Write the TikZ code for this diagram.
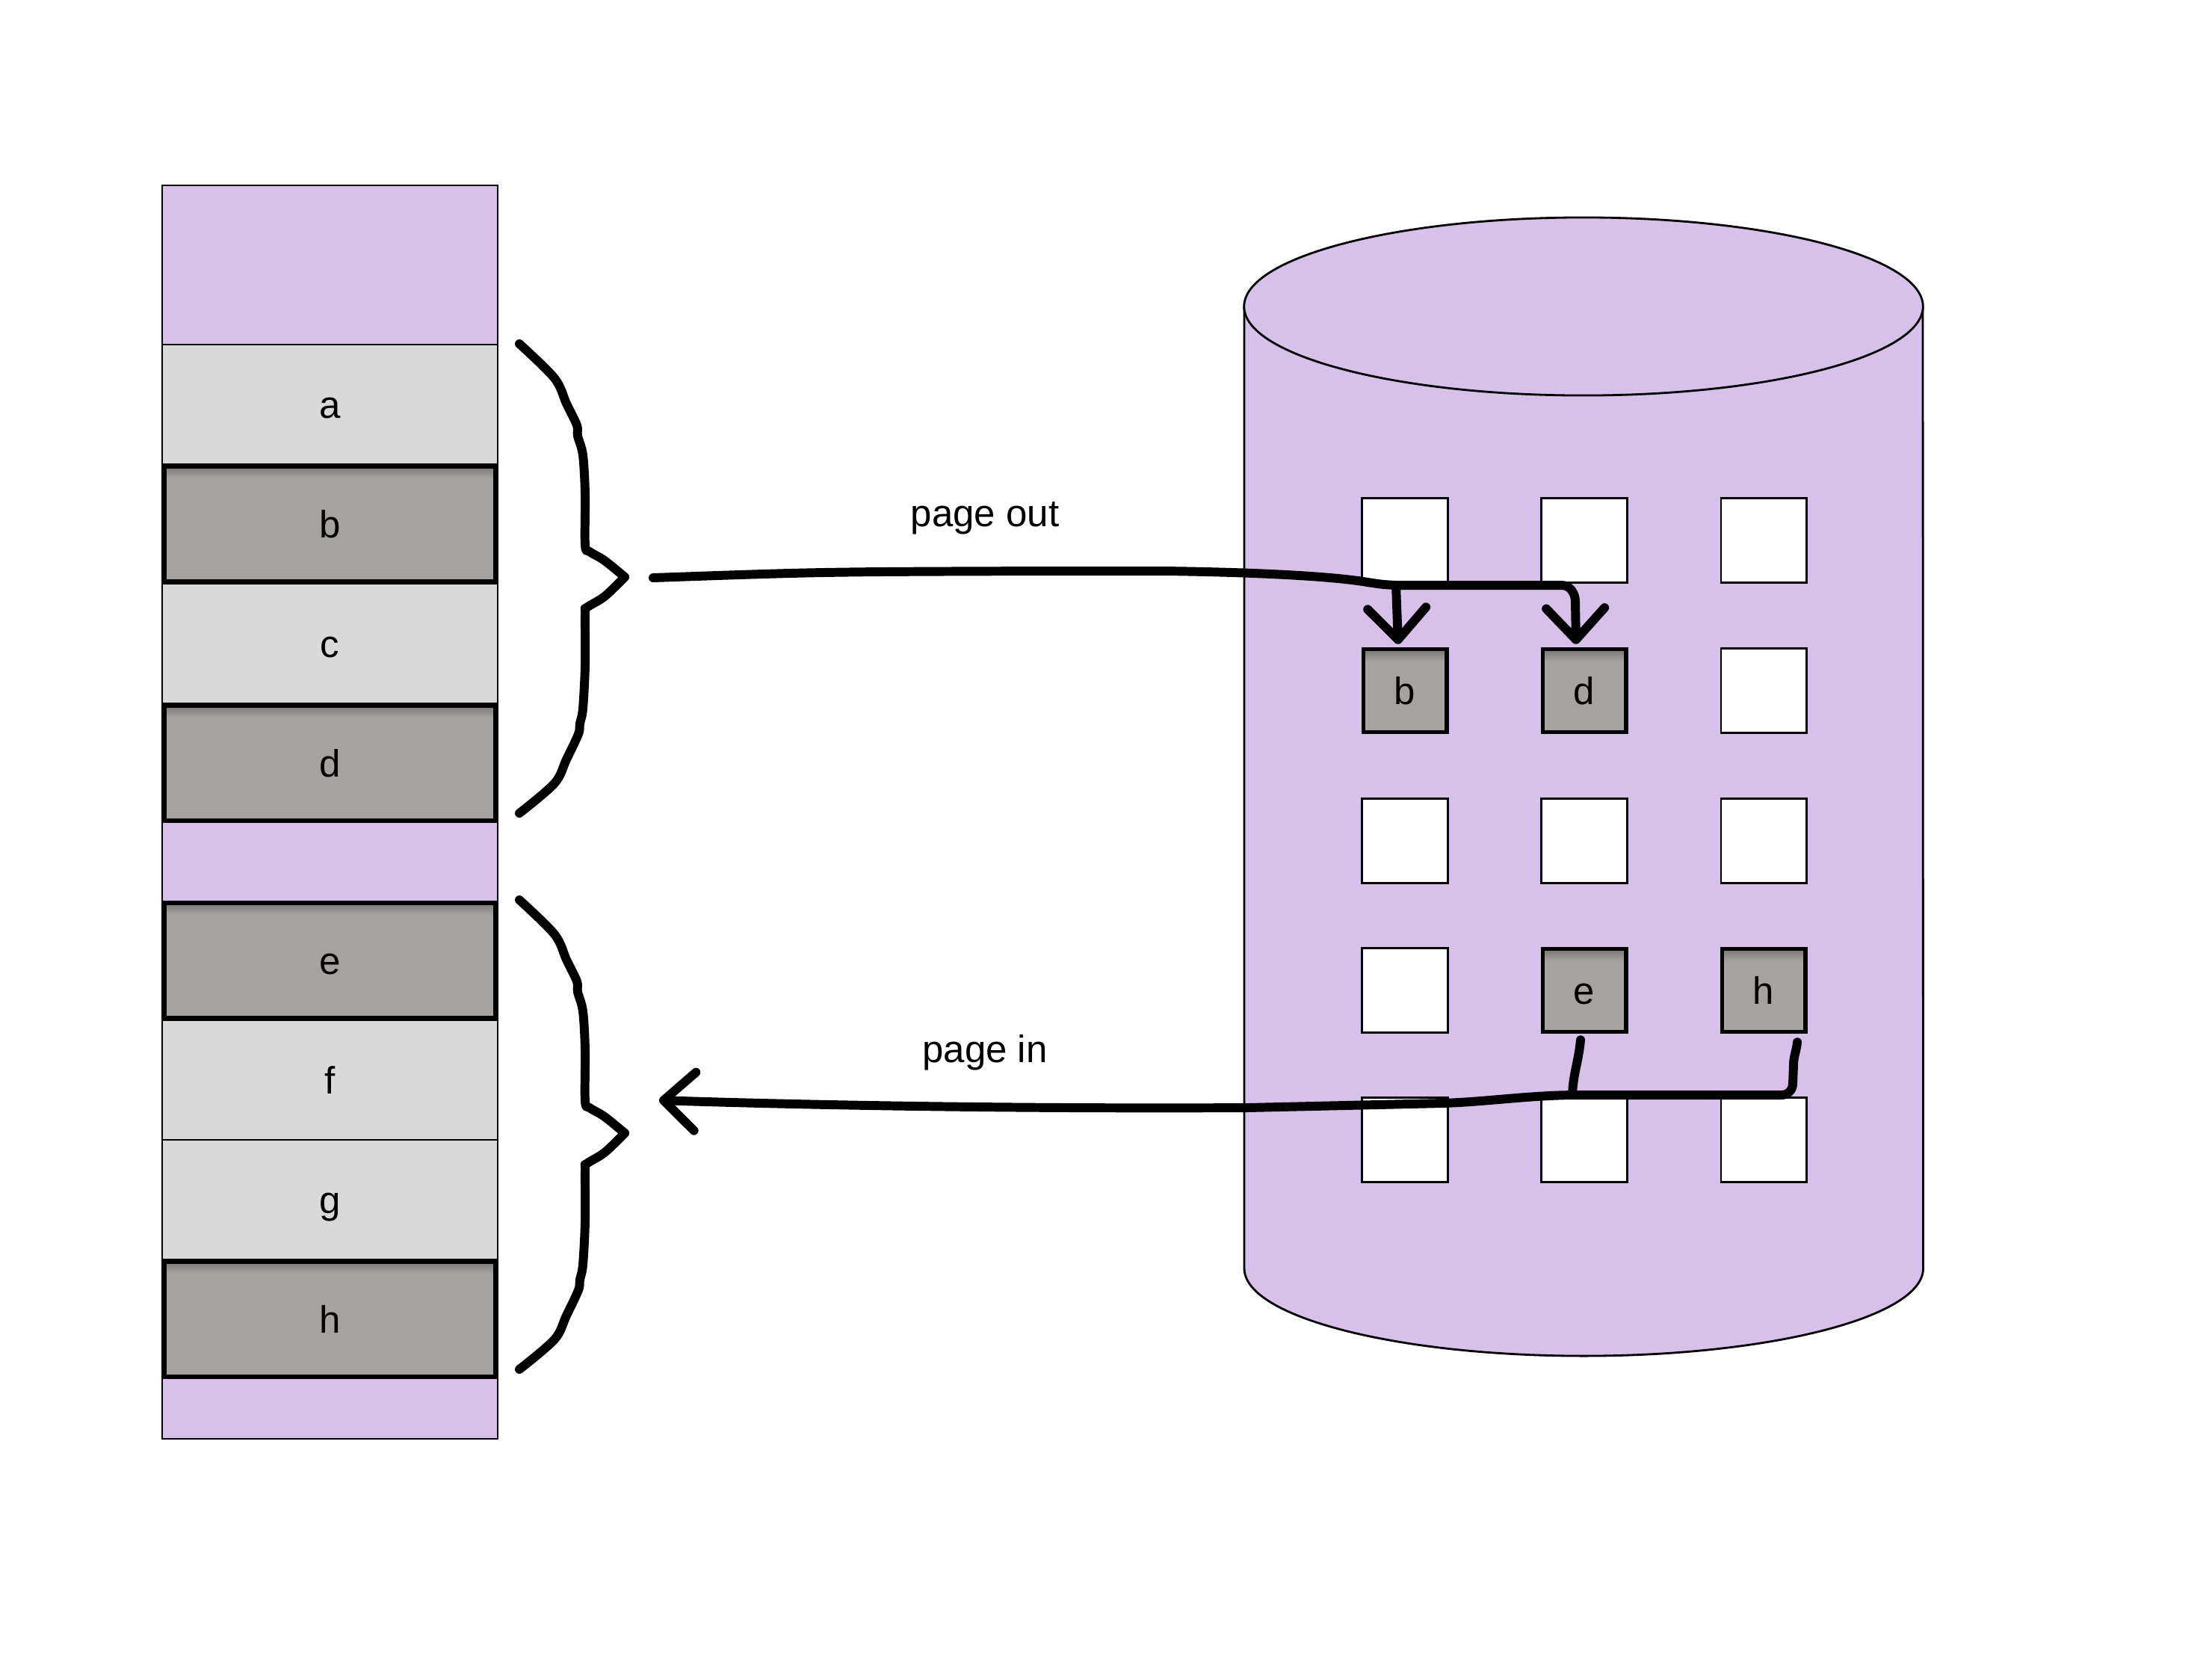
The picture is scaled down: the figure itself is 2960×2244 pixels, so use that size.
\documentclass[tikz,border=0pt]{standalone}
\usepackage{fontspec}
\setmainfont{Liberation Sans}
\usetikzlibrary{arrows.meta,calc}

\definecolor{memviolet}{HTML}{D7C0EA}
\definecolor{freegray}{HTML}{D9D9D9}
\definecolor{pagegray}{HTML}{A5A2A1}

\begin{document}
\begin{tikzpicture}[x=0.01cm,y=-0.01cm,
  font=\fontsize{14.5}{17}\selectfont,
  cell/.style={rectangle, inner sep=0pt, outer sep=0pt, text height=3.6mm, text depth=0pt},
  % soft shadow under the top edge of a page, built from thin bands
  topshade/.style={path picture={
      \foreach \i [evaluate=\i as \pct using int(74+3.5*\i), evaluate=\i as \ya using -0.2*\i,
                   evaluate=\i as \yb using -0.2*\i-0.25] in {0,...,7}{
        \fill[pagegray!\pct!black]
          ([yshift={\ya*1mm}]path picture bounding box.north west)
          rectangle ([yshift={\yb*1mm}]path picture bounding box.north east);
      }}},
  lightcell/.style={cell, draw, line width=0.7pt, fill=freegray, minimum width=4.49cm, minimum height=1.60cm},
  darkcell/.style={cell, draw, line width=1.7pt, fill=pagegray, topshade, minimum width=4.43cm, minimum height=1.54cm},
  slot/.style={cell, draw, line width=0.85pt, fill=white, minimum width=1.14cm, minimum height=1.13cm},
  fullslot/.style={cell, draw, line width=1.55pt, fill=pagegray, topshade, minimum width=1.115cm, minimum height=1.105cm},
  hand/.style={line width=3.4pt, line cap=round, line join=round},
  barb/.style={-{Straight Barb[length=4.2mm, width=7.8mm, round]}},
]

% canvas
\fill[white] (0,0) rectangle (2960,2244);
\useasboundingbox (0,0) rectangle (2960,2244);

% ---- main memory column ----
\draw[line width=0.7pt, fill=memviolet] (217,248) rectangle (666,1925);
\node[lightcell] (a) at (441.5,541) {a};
\node[lightcell] (c) at (441.5,861) {c};
\node[lightcell] (f) at (441.5,1445) {f};
\node[lightcell] (g) at (441.5,1605) {g};
\node[darkcell] (b) at (441.5,701) {b};
\node[darkcell] (d) at (441.5,1021) {d};
\node[darkcell] (e) at (441.5,1285) {e};
\node[darkcell] (h) at (441.5,1765) {h};

% ---- hand-drawn braces ----
\foreach \ty in {772,1516}{
  \begin{scope}[shift={(836,\ty)}]
    \draw[hand] plot[smooth, tension=0.55] coordinates {(-141,-312) (-94,-266) (-78,-232) (-64,-203) (-63,-189) (-56,-163) (-53,-111) (-53,-43) (-47,-34) (-27,-22) (0,0)};
    \draw[hand] plot[smooth, tension=0.55] coordinates {(0,0) (-27,26) (-51,41) (-53,49) (-53,118) (-56,176) (-60,196) (-62,210) (-78,244) (-94,276) (-141,316)};
  \end{scope}
}

% ---- swap disk ----
\fill[memviolet] (1665,410) -- (1665,1697) arc[start angle=180, end angle=360, x radius=4.54cm, y radius=1.17cm] -- (2573,410) -- cycle;
\draw[line width=0.8pt] (1665,410) -- (1665,1697) arc[start angle=180, end angle=360, x radius=4.54cm, y radius=1.17cm] -- (2573,410);
\draw[line width=0.8pt, fill=memviolet] (2119,410) ellipse [x radius=4.54cm, y radius=1.19cm];

% swap slots
\node[slot] (s11) at (1880,723) {};
\node[slot] (s12) at (2120,723) {};
\node[slot] (s13) at (2360,723) {};
\node[fullslot] (pb) at (1880,924) {b};
\node[fullslot] (pd) at (2120,924) {d};
\node[slot] (s23) at (2360,924) {};
\node[slot] (s31) at (1880,1125) {};
\node[slot] (s32) at (2120,1125) {};
\node[slot] (s33) at (2360,1125) {};
\node[slot] (s41) at (1880,1325) {};
\node[fullslot] (pe) at (2120,1325) {e};
\node[fullslot] (ph) at (2360,1325) {h};
\node[slot] (s51) at (1880,1525) {};
\node[slot] (s52) at (2120,1525) {};
\node[slot] (s53) at (2360,1525) {};

% ---- labels ----
\node[anchor=base, inner sep=0pt] (outlabel) at (1318,704) {page out};
\node[anchor=base, inner sep=0pt] (inlabel) at (1318,1421) {page in};

% ---- page out ----
\coordinate (po) at (874,773);
\coordinate (fork) at (1868,783);
\draw[hand, barb] (po) .. controls (1100,765) .. (1400,764) -- (1560,764)
  .. controls (1700,766) and (1790,772) .. (1830,779) .. controls (1850,782) .. (fork)
  -- (2090,783) to[out=0,in=90] (2108,805) -- ($(pd.north)+(-11,-7)$);
\draw[hand, barb] (fork) -- ($(pb.north)+(-9,-7)$);

% ---- page in ----
\coordinate (pi) at (882,1472);
\coordinate (merge) at (2104,1465);
\draw[hand, barb] ($(ph.south)+(45,14)$) to[out=-95,in=90] (2400,1425) -- (2399,1450)
  to[out=-90,in=0] (2384,1465) -- (merge)
  .. controls (2040,1466) and (1990,1474) .. (1930,1476) -- (1669,1482)
  .. controls (1300,1484) and (1000,1476) .. (pi);
\draw[hand] ($(pe.south)+(-5,11)$) to[out=-95,in=88] (merge);

\end{tikzpicture}
\end{document}
